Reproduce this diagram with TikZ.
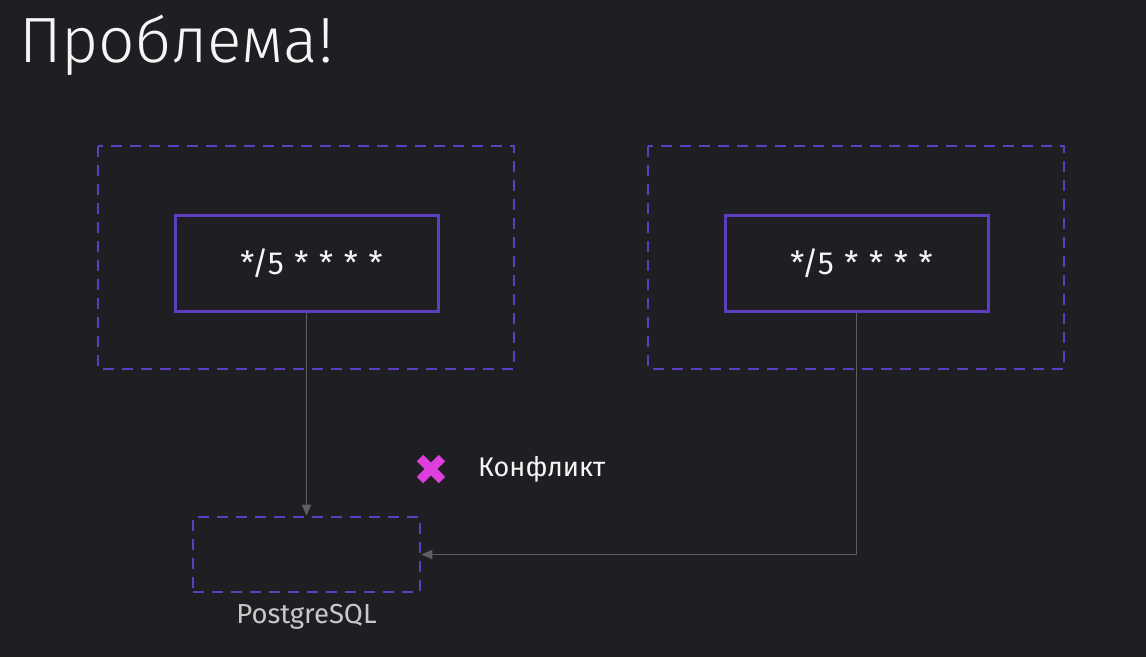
\documentclass[tikz,border=0pt]{standalone}
\usepackage{fontspec}
\setmainfont{Fira Sans}
\newfontfamily\titlefont{Fira Sans Light}
\usetikzlibrary{arrows.meta,calc}
\definecolor{bg}{RGB}{31,31,35}
\definecolor{purp}{RGB}{92,62,190}
\definecolor{conn}{RGB}{95,95,98}
\definecolor{mag}{RGB}{222,62,222}
\definecolor{txt}{RGB}{245,245,245}
\definecolor{lbl}{RGB}{200,200,200}
\tikzset{
  outerbox/.style={draw=purp, line width=2.6pt, dash pattern=on 11pt off 8pt},
  innerbox/.style={draw=purp, line width=3pt},
  conarrow/.style={draw=conn, line width=1.5pt, -{Triangle[length=11pt,width=9pt]}},
  crontext/.style={text=txt, font=\fontsize{32}{38}\selectfont},
}
\begin{document}
\begin{tikzpicture}[x=1pt,y=-1pt]
\fill[bg] (0,0) rectangle (1146,657);
\useasboundingbox (0,0) rectangle (1146,657);
\node[anchor=base west, inner sep=0, text=txt, font=\titlefont\fontsize{64}{70}\selectfont] (title) at (19,62) {Проблема!};
% left
\draw[outerbox] (98,146) rectangle (514,369);
\node[innerbox, minimum width=263pt, minimum height=96pt, inner sep=0] (cronA) at (306.5,263) {};
\node[crontext] (cronAt) at (311.5,263) {*/5\,\,*\,\,*\,\,*\,\,*};
% right
\draw[outerbox] (648,146) rectangle (1064,369);
\node[innerbox, minimum width=263pt, minimum height=96pt, inner sep=0] (cronB) at (856.5,263) {};
\node[crontext] (cronBt) at (861.5,263) {*/5\,\,*\,\,*\,\,*\,\,*};
% postgres
\node[outerbox, minimum width=227pt, minimum height=75pt, inner sep=0] (pg) at (306.5,554.5) {};
\node[text=lbl, font=\fontsize{27.5}{32}\selectfont, anchor=north] (pgl) at (pg.south) [yshift=-7pt] {PostgreSQL};
% connectors
\draw[conarrow] (cronA.south) -- (pg.north);
\draw[conarrow] (cronB.south) |- (pg.east);
% conflict
\coordinate (xc) at (431,469);
\draw[mag, line width=9pt] ($(xc)+(-11,-11)$) -- ($(xc)+(11,11)$);
\draw[mag, line width=9pt] ($(xc)+(-11,11)$) -- ($(xc)+(11,-11)$);
\node[anchor=west, text=txt, font=\fontsize{27}{32}\selectfont, inner sep=0] (conf) at (478,469) {Конфликт};
\end{tikzpicture}
\end{document}
